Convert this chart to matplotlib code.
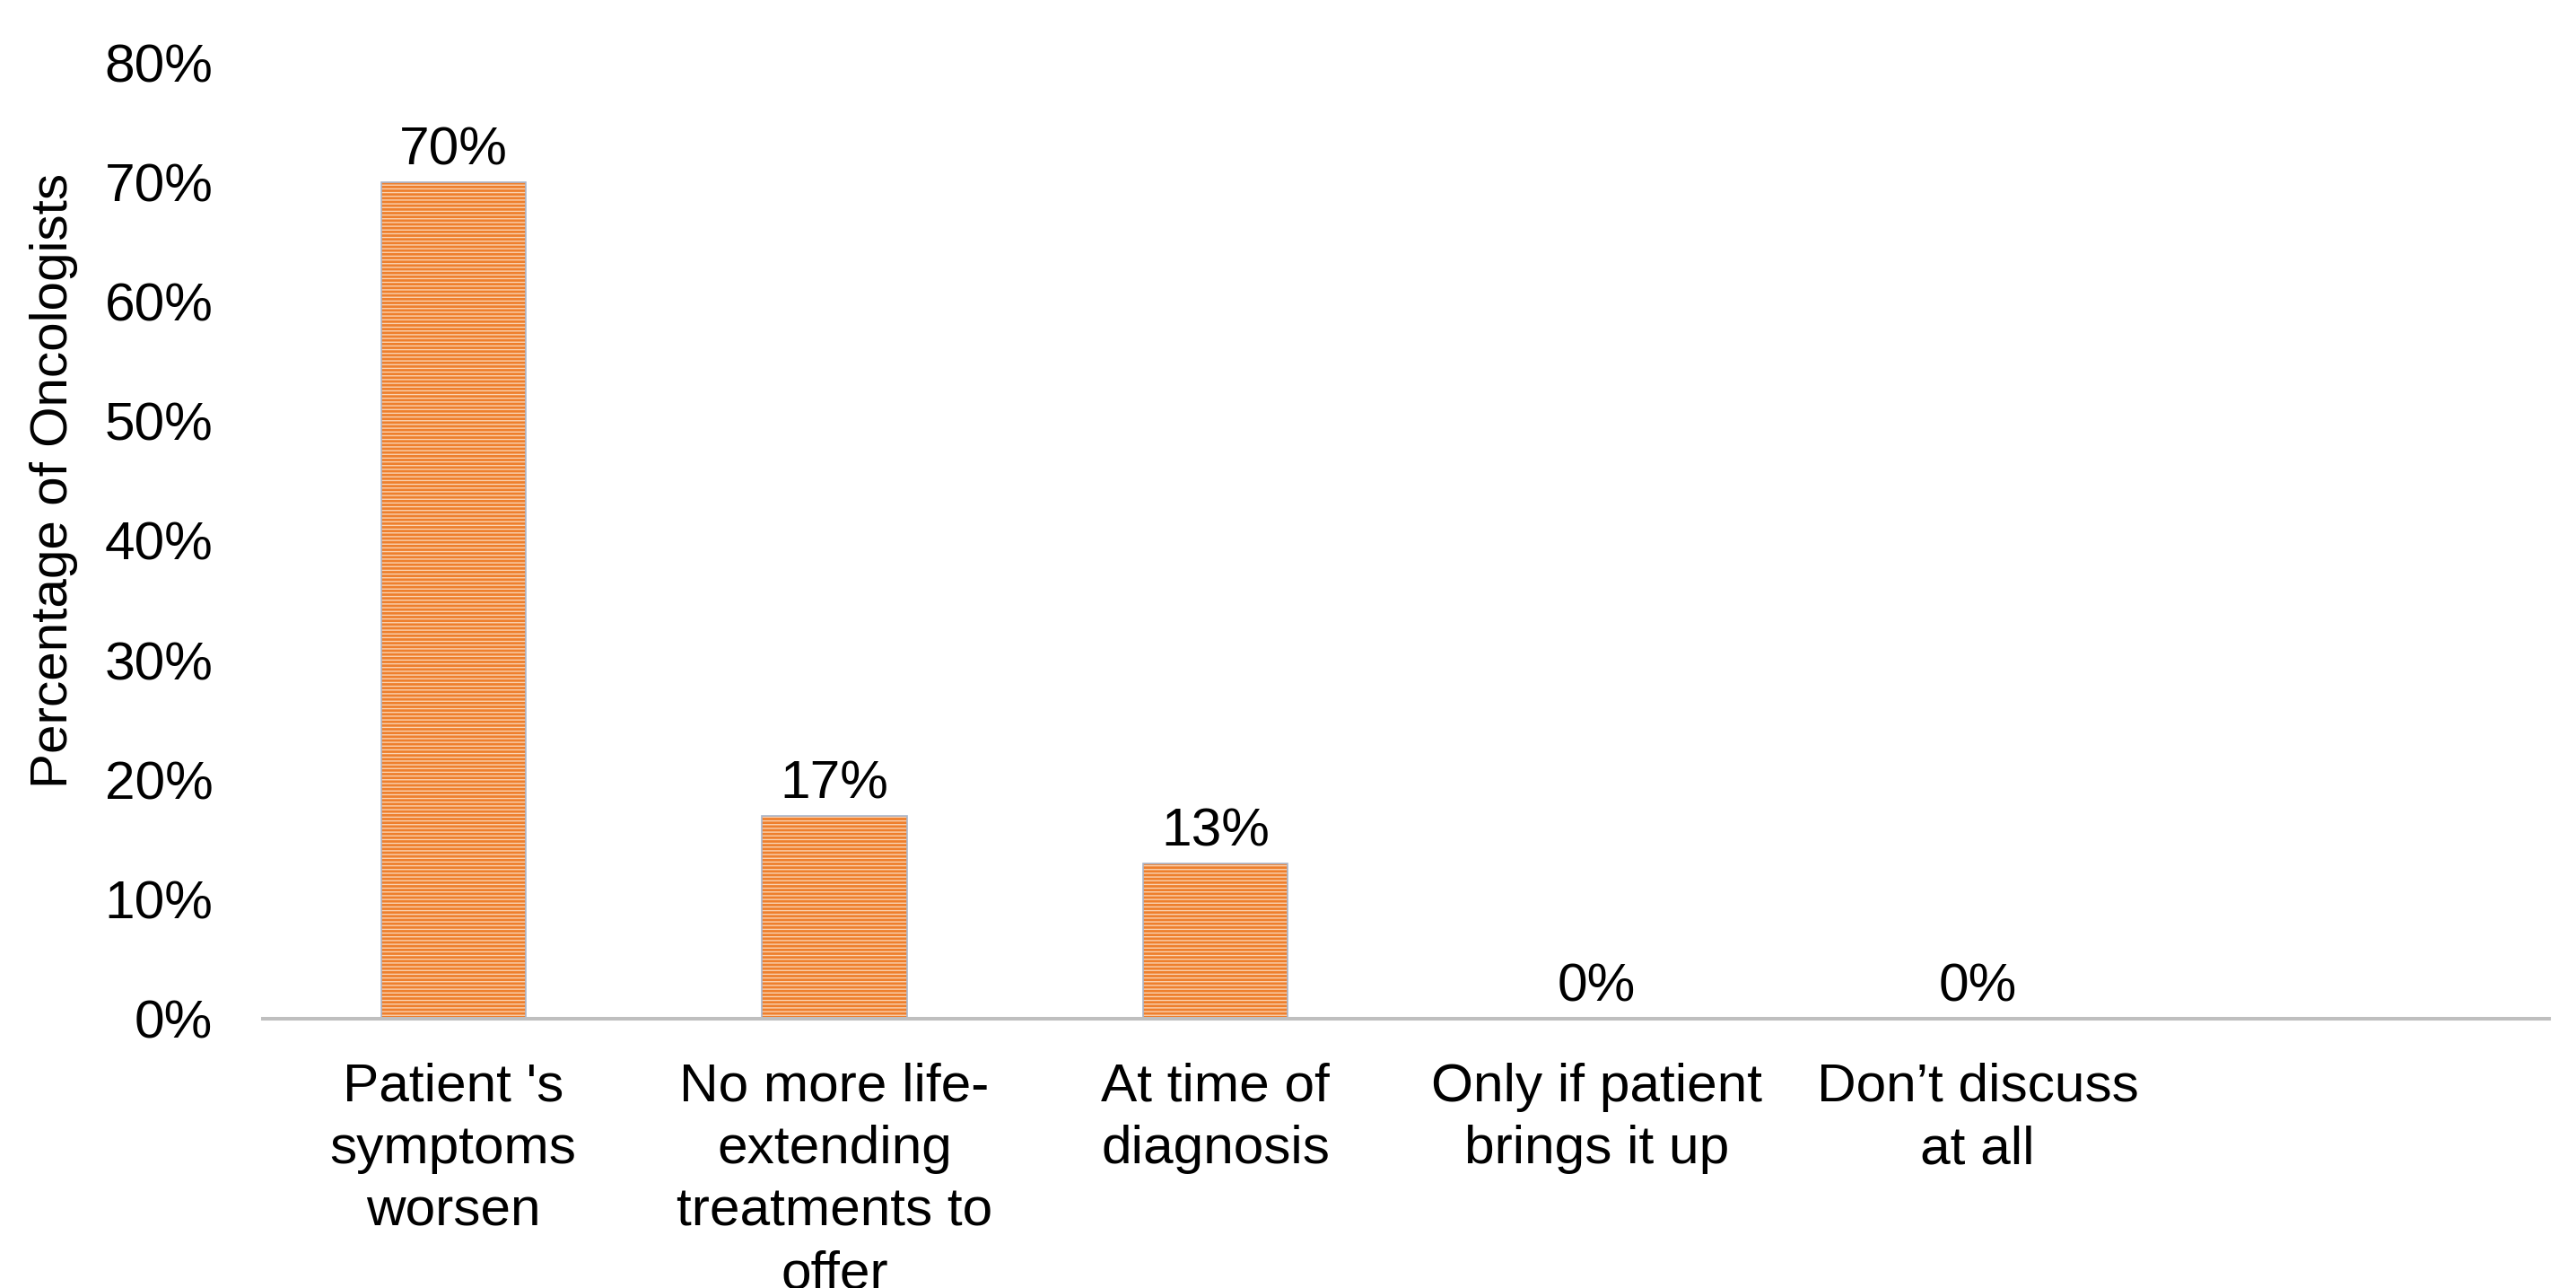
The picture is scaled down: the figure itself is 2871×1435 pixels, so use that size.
import matplotlib.pyplot as plt
import numpy as np

############################################################
# INPUT

categories = ["Patient 's\nsymptoms\nworsen",
              "No more life-\nextending\ntreatments to\noffer",
              "At time of\ndiagnosis",
              "Only if patient\nbrings it up",
              "Don\u2019t discuss\nat all",
              ""]
values = [70, 17, 13, 0, 0]          # percent of oncologists
yticks = [0, 10, 20, 30, 40, 50, 60, 70, 80]
ylabel = "Percentage of Oncologists"

# END INPUT
############################################################

plt.rcParams['font.family'] = ['Liberation Sans', 'DejaVu Sans']
plt.rcParams['hatch.linewidth'] = 1.0
fs = 43.5

fig = plt.figure(figsize=(28.71, 14.35), dpi=100)
ax = fig.add_axes([0.102, 0.2091, 0.8876, 0.7421])

x = np.arange(len(values))
w = 0.38
ax.bar(x, values, width=w, color='#EE7F2D', edgecolor='#FBD3B2',
       hatch='----', linewidth=0, zorder=2)
ax.bar(x, values, width=w, fill=False, edgecolor='#A9B6CC',
       linewidth=1.2, zorder=3)

for xi, v in zip(x, values):
    ax.annotate(f"{v}%", (xi, v), xytext=(0, 14), textcoords='offset points',
                ha='center', va='baseline', fontsize=fs, color='black')

ax.set_xlim(-0.5, len(categories) - 0.5)
ax.set_ylim(0, 80)
ax.set_xticks(np.arange(len(categories)))
ax.set_xticklabels(categories, fontsize=fs, linespacing=1.34)
ax.set_yticks(yticks)
ax.set_yticklabels([f"{t}%" for t in yticks], fontsize=fs)
ax.tick_params(axis='both', length=0)
ax.tick_params(axis='y', pad=40)
ax.tick_params(axis='x', pad=35)

for s in ['top', 'right', 'left']:
    ax.spines[s].set_visible(False)
ax.spines['bottom'].set_color('#BFBFBF')
ax.spines['bottom'].set_linewidth(2.9)
ax.spines['bottom'].set_zorder(4)

fig.text(60 / 2871, 1 - 535 / 1435, ylabel, rotation=90, ha='center',
         va='center', fontsize=42)

plt.savefig("out.png", dpi=100)
plt.close()
